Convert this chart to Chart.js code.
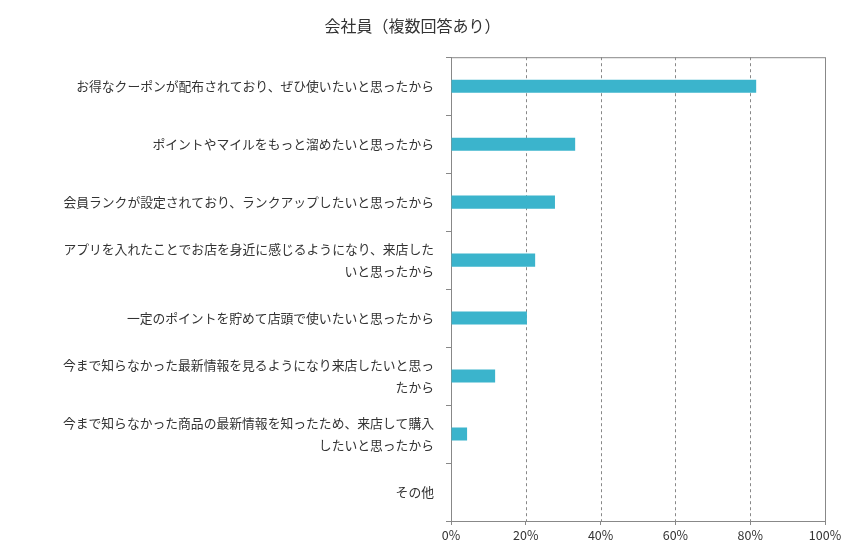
<!DOCTYPE html>
<html><head><meta charset="utf-8">
<script src="https://cdn.jsdelivr.net/npm/chart.js@4"></script>
<style>body{margin:0;background:#fff}#w{width:850px;height:558px}</style>
</head><body><div id="w"><canvas id="c"></canvas></div>
<script>
const categories = [
 ["お得なクーポンが配布されており、ぜひ使いたいと思ったから"],
 ["ポイントやマイルをもっと溜めたいと思ったから"],
 ["会員ランクが設定されており、ランクアップしたいと思ったから"],
 ["アプリを入れたことでお店を身近に感じるようになり、来店した","いと思ったから"],
 ["一定のポイントを貯めて店頭で使いたいと思ったから"],
 ["今まで知らなかった最新情報を見るようになり来店したいと思っ","たから"],
 ["今まで知らなかった商品の最新情報を知ったため、来店して購入","したいと思ったから"],
 ["その他"]
];
const values = [81.6, 33.2, 27.8, 22.5, 20.3, 11.8, 4.3, 0];
const xTicks = [0,20,40,60,80,100];
const F = "'Noto Sans CJK JP','Noto Sans',sans-serif";
new Chart(document.getElementById('c'), {
 type:'bar',
 data:{labels:categories, datasets:[{data:values, backgroundColor:'#3bb4cc', barPercentage:0.9, categoryPercentage:0.25}]},
 options:{
  indexAxis:'y', responsive:true, maintainAspectRatio:false, animation:false,
  layout:{padding:{top:12,right:25,bottom:12,left:0}},
  plugins:{legend:{display:false}, tooltip:{enabled:false},
   title:{display:true,text:'会社員（複数回答あり）',color:'#333',font:{family:F,size:16,weight:'normal'},padding:{top:4,bottom:22}}},
  scales:{
   x:{min:0,max:100,afterBuildTicks:a=>{a.ticks=xTicks.map(v=>({value:v}));},
      ticks:{callback:v=>v+'%',color:'#333',font:{family:F,size:12.5}},
      grid:{drawOnChartArea:false,color:'#888',tickLength:4},border:{display:true,color:'#888'}},
   y:{afterFit:s=>{s.width=451;},
      ticks:{color:'#333',font:{family:F,size:12.8,lineHeight:1.7},padding:12},
      grid:{offset:true,drawOnChartArea:false,color:'#888',tickLength:5},border:{color:'#888'}}
  }
 },
 plugins:[{id:'frame',beforeDatasetsDraw(ch){const {ctx,chartArea:a,scales:{x}}=ch;ctx.save();ctx.strokeStyle='#888';ctx.lineWidth=1;
   ctx.setLineDash([3,3]);xTicks.slice(1,-1).forEach(v=>{const px=Math.round(x.getPixelForValue(v))+0.5;ctx.beginPath();ctx.moveTo(px,a.top);ctx.lineTo(px,a.bottom);ctx.stroke();});
   ctx.setLineDash([]);ctx.strokeRect(a.left+0.5,a.top+0.5,a.right-a.left,a.bottom-a.top);ctx.restore();}}]
});
</script></body></html>
